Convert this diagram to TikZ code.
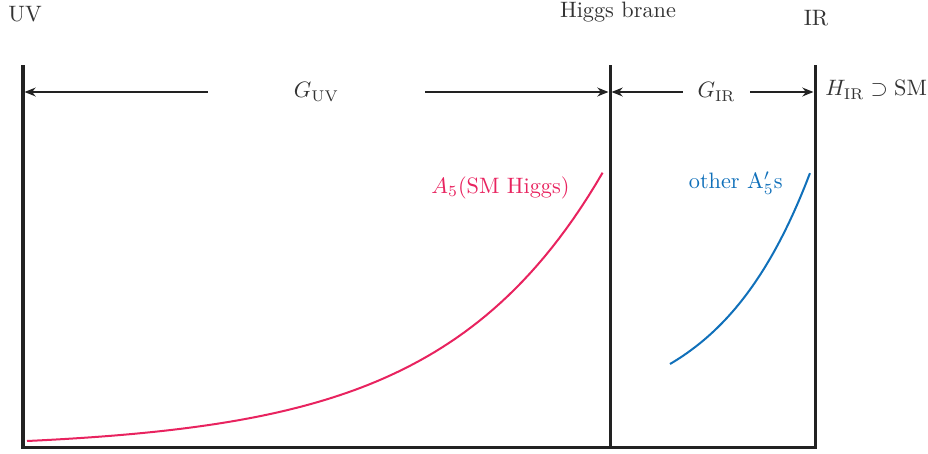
\documentclass[tikz,border=0pt]{standalone}
\usepackage{tikz}
\usetikzlibrary{arrows.meta}
\definecolor{wallgray}{HTML}{222222}
\definecolor{labelgray}{HTML}{333333}
\definecolor{higgspink}{HTML}{E8235F}
\definecolor{otherblue}{HTML}{1070BA}
\tikzset{
  brane/.style={draw=wallgray, line width=1.35pt},
  span/.style={-{Stealth[length=5pt, width=4pt]}, line width=0.5pt, draw=wallgray, shorten >=0.7pt},
  tag/.style={text=labelgray, inner sep=0pt},
  profile/.style={line width=0.9pt},
}
\begin{document}
\begin{tikzpicture}[x=0.449pt, y=-0.449pt]
  \useasboundingbox (0,0) rectangle (928,453);
  % brane ends
  \coordinate (uvtop) at (23,65);
  \coordinate (uvbot) at (23,447);
  \coordinate (hbtop) at (610,65);
  \coordinate (hbbot) at (610,447);
  \coordinate (irtop) at (815,65);
  \coordinate (irbot) at (815,447);
  \coordinate (uvmid) at (23,92);
  \coordinate (hbmid) at (610,92);
  \coordinate (irmid) at (815,92);

  % branes and bulk floor
  \draw[brane] (uvtop) -- (uvbot) -- (irbot) -- (irtop);
  \draw[brane] (hbtop) -- (hbbot);

  % brane names
  \node[tag, anchor=west] (uv) at (8,14) {UV};
  \node[tag] (higgs) at (618,12) {Higgs brane};
  \node[tag] (ir) at (816,18) {IR};

  % gauge groups
  \node[tag, minimum width=97.4pt] (guv) at (316.5,92) {$G_{\mathrm{UV}}$};
  \node[tag, minimum width=30pt] (gir) at (716.5,92) {$G_{\mathrm{IR}}$};
  \node[tag, anchor=west] (hir) at (825,90) {$H_{\mathrm{IR}}\supset\mathrm{SM}$};
  \draw[span] (guv.west) -- (uvmid);
  \draw[span] (guv.east) -- (hbmid);
  \draw[span] (gir.west) -- (hbmid);
  \draw[span] (gir.east) -- (irmid);

  % profiles
  \draw[profile, higgspink] plot[domain=0:1, samples=80]
    ({27+576*\x}, {441-269*(exp(3.6*\x)-1)/35.598});
  \node[tag, text=higgspink, anchor=east] (a5) at (570,188) {$A_5$(SM Higgs)};
  \draw[profile, otherblue] plot[domain=0:1, samples=50]
    ({670+140*\x}, {364-191*(exp(1.5*\x)-1)/3.4817});
  \node[tag, text=otherblue, anchor=east] (a5p) at (783,183) {other A$'_5$s};
\end{tikzpicture}
\end{document}
